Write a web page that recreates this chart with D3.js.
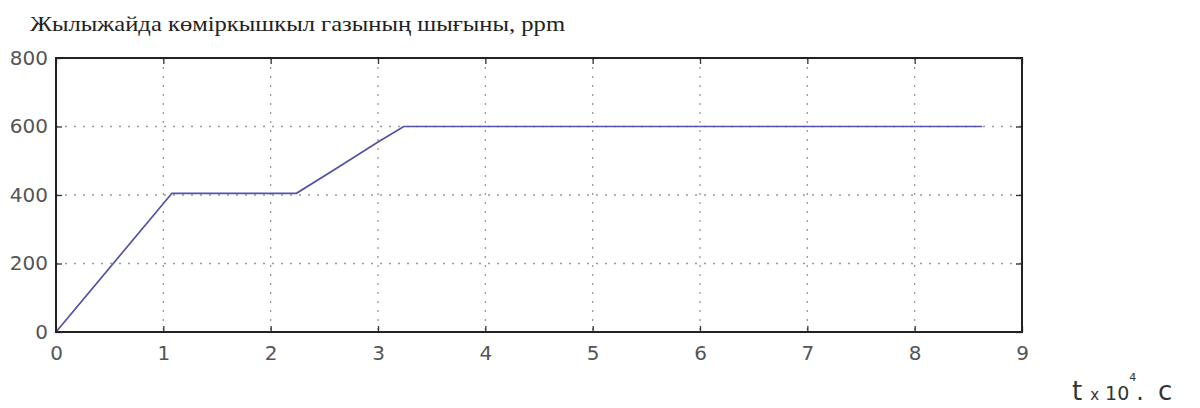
<!doctype html>
<html>
<head>
<meta charset="utf-8">
<script src="https://cdn.jsdelivr.net/npm/d3@7"></script>
<style>
  body { margin: 0; background: #fff; }
</style>
</head>
<body>
<svg id="chart" width="1200" height="408"></svg>
<script>
// time in units of 10^4 s, CO2 in ppm
const tValues = [0, 1.08, 2.24, 2.6, 3.0, 3.24, 8.63]
const co2Values = [0, 405, 405, 475, 555, 600, 600]
const xTicks = [0, 1, 2, 3, 4, 5, 6, 7, 8, 9]
const yTicks = [0, 200, 400, 600, 800]
const title = 'Жылыжайда көміркышкыл газының шығыны, ppm'

const svg = d3.select('#chart')
const margin = { top: 58, right: 178, bottom: 76, left: 56 }
const width = 1200 - margin.left - margin.right
const height = 408 - margin.top - margin.bottom
const g = svg.append('g').attr('transform', `translate(${margin.left},${margin.top})`)

const x = d3.scaleLinear().domain([0, 9]).range([0, width])
const y = d3.scaleLinear().domain([0, 800]).range([height, 0])

// dotted grid
g.append('g').selectAll('line')
  .data(xTicks.slice(1, -1))
  .join('line')
  .attr('x1', d => x(d)).attr('x2', d => x(d))
  .attr('y1', 0).attr('y2', height)
  .attr('stroke', '#999').attr('stroke-width', 1.3)
  .attr('stroke-dasharray', '2,7')
g.append('g').selectAll('line')
  .data(yTicks.slice(1, -1))
  .join('line')
  .attr('x1', 0).attr('x2', width)
  .attr('y1', d => y(d)).attr('y2', d => y(d))
  .attr('stroke', '#999').attr('stroke-width', 1.3)
  .attr('stroke-dasharray', '2,7')

// data line
const data = tValues.map((t, i) => ({ t, v: co2Values[i] }))
g.append('path')
  .datum(data)
  .attr('fill', 'none')
  .attr('stroke', '#5252a6')
  .attr('stroke-width', 1.7)
  .attr('d', d3.line().x(d => x(d.t)).y(d => y(d.v)))

// axes, ticks pointing inward
const tickStyle = sel => {
  sel.select('.domain').remove()
  sel.selectAll('.tick line').attr('stroke', '#333').attr('stroke-width', 1.3)
  sel.selectAll('.tick text').attr('fill', '#555')
    .style('font-family', 'DejaVu Sans, sans-serif').style('font-size', '20px')
}
g.append('g')
  .attr('transform', `translate(0,${height})`)
  .call(d3.axisBottom(x).tickValues(xTicks).tickFormat(d3.format('d')).tickSizeInner(-6).tickPadding(14))
  .call(tickStyle)
g.append('g')
  .call(d3.axisTop(x).tickValues(xTicks).tickFormat('').tickSizeInner(-6))
  .call(tickStyle)
g.append('g')
  .call(d3.axisLeft(y).tickValues(yTicks).tickSizeInner(-6).tickPadding(8))
  .call(tickStyle)
g.append('g')
  .attr('transform', `translate(${width},0)`)
  .call(d3.axisRight(y).tickValues(yTicks).tickFormat('').tickSizeInner(-6))
  .call(tickStyle)

// frame
g.append('rect')
  .attr('width', width).attr('height', height)
  .attr('fill', 'none').attr('stroke', '#222').attr('stroke-width', 2)

// title
svg.append('text')
  .attr('x', 30).attr('y', 31)
  .style('font-family', 'Liberation Serif, serif')
  .style('font-size', '22px')
  .attr('textLength', 535)
  .attr('lengthAdjust', 'spacingAndGlyphs')
  .attr('fill', '#222')
  .text(title)

// x axis label: t x 10^4, c
const xl = svg.append('text')
  .attr('x', 1072).attr('y', 400)
  .style('font-family', 'DejaVu Sans, sans-serif')
  .attr('fill', '#333')
xl.append('tspan').style('font-size', '26px').text('t')
xl.append('tspan').style('font-size', '15px').attr('dx', 8).text('x')
xl.append('tspan').style('font-size', '19px').attr('dx', 6).text('10')
xl.append('tspan').style('font-size', '11px').attr('dy', -19).text('4')
xl.append('tspan').style('font-size', '24px').attr('dy', 19).text('.')
xl.append('tspan').style('font-size', '26px').attr('dx', 14).text('c')
</script>
</body>
</html>
